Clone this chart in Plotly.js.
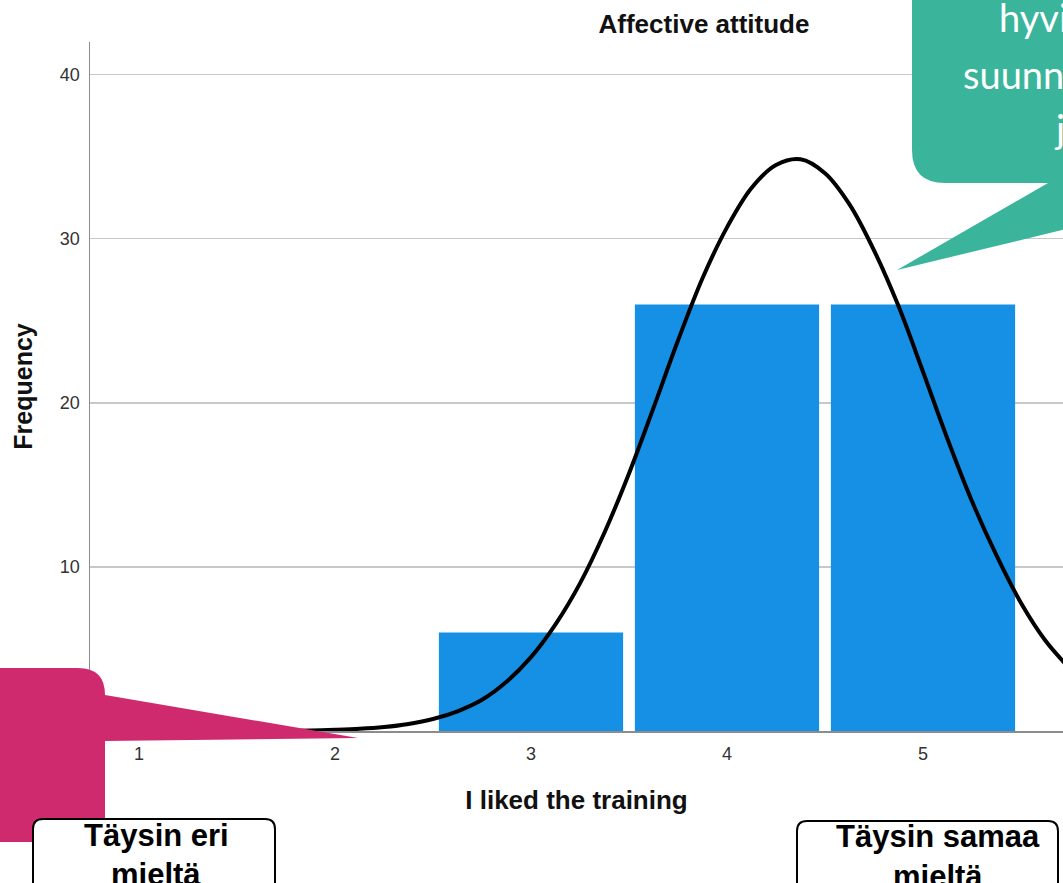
<!DOCTYPE html>
<html>
<head>
<meta charset="utf-8">
<script src="https://cdn.plot.ly/plotly-3.0.1.min.js"></script>
<style>
html,body{margin:0;padding:0;background:#fff;overflow:hidden;}
#chart{width:1063px;height:883px;}
</style>
</head>
<body>
<div id="chart"></div>
<script>
// ---- data ----
const categories = [1, 2, 3, 4, 5];
const frequencies = [0, 0, 6, 26, 26];
const curveX = [0.75, 1, 1.25, 1.5, 1.625, 1.75, 1.875, 2, 2.125, 2.25, 2.375, 2.5, 2.625, 2.75, 2.875, 3, 3.125, 3.25, 3.375, 3.5, 3.625, 3.75, 3.875, 4, 4.125, 4.25, 4.375, 4.5, 4.625, 4.75, 4.875, 5, 5.125, 5.25, 5.375, 5.5, 5.625, 5.75];
const curveY = [0, 0, 0, 0, 0, 0.01, 0.03, 0.07, 0.13, 0.24, 0.43, 0.73, 1.2, 1.9, 3.0, 4.5, 6.5, 9.0, 12.1, 15.7, 19.7, 23.8, 27.6, 30.7, 33.1, 34.5, 34.85, 34.0, 32.1, 29.3, 25.9, 21.9, 17.8, 14.0, 10.7, 7.8, 5.5, 3.8];
const yTicks = [0, 10, 20, 30, 40];
const chartTitle = "Affective attitude";
const xTitle = "I liked the training";
const yTitle = "Frequency";
const leftBoxLines = ["Täysin eri", "mieltä"];
const rightBoxLines = ["Täysin samaa", "mieltä"];
const calloutLines = ["hyvin", "suunniteltu", "ja"];

// ---- layout geometry (pixels) ----
const W = 1063, H = 883;
const M = {l: 90, r: 0, t: 42, b: 152};
const PW = W - M.l - M.r, PH = H - M.t - M.b;
const px = x => (x - M.l) / PW;
const py = y => (H - M.b - y) / PH;
function path(points) {
  return points.map(p => {
    const c = p[0];
    const nums = p.slice(1);
    const out = [];
    for (let i = 0; i < nums.length; i += 2) out.push(px(nums[i]).toFixed(5) + ',' + py(nums[i+1]).toFixed(5));
    return c + ' ' + out.join(' ');
  }).join(' ') + ' Z';
}

const pinkPath = path([['M',-30,668],['L',78,668],['Q',105,668,105,695],['L',358,738],['L',105,741],['L',105,842],['L',-30,842]]);
const tealPath = path([['M',912,-30],['L',1120,-30],['L',1120,216],['L',897,270],['L',1048,183],['L',945,183],['Q',912,183,912,150]]);
const box1Path = path([['M',33,920],['L',33,829],['Q',33,819,43,819],['L',265,819],['Q',275,819,275,829],['L',275,920]]);
const box2Path = path([['M',797,920],['L',797,831],['Q',797,821,807,821],['L',1048,821],['Q',1058,821,1058,831],['L',1058,920]]);

const bars = {
  type: 'bar', x: categories, y: frequencies, width: 0.94,
  marker: {color: '#1690E4', line: {width: 0}},
  hoverinfo: 'x+y', showlegend: false
};
const curve = {
  type: 'scatter', mode: 'lines', x: curveX, y: curveY,
  line: {color: '#000000', width: 4, shape: 'spline', smoothing: 1},
  hoverinfo: 'skip', showlegend: false
};

const arial = 'Arial, "Liberation Sans", sans-serif';
const annotations = [];
function addLine(text, xPix, yPix, size, color, anchor, family, bold) {
  annotations.push({
    xref: 'paper', yref: 'paper', x: px(xPix), y: py(yPix),
    xanchor: anchor, yanchor: 'middle', showarrow: false,
    text: bold ? '<b>' + text + '</b>' : text,
    font: {family: family, size: size, color: color}
  });
}
addLine(leftBoxLines[0], 156, 835, 31, '#000', 'center', arial, true);
addLine(leftBoxLines[1], 156, 874, 31, '#000', 'center', arial, true);
addLine(rightBoxLines[0], 938, 837, 31, '#000', 'center', arial, true);
addLine(rightBoxLines[1], 938, 876, 31, '#000', 'center', arial, true);
addLine(calloutLines[0], 997, 17, 38, '#ffffff', 'left', 'Lato, "Open Sans", sans-serif', false);
addLine(calloutLines[1], 961, 74, 38, '#ffffff', 'left', 'Lato, "Open Sans", sans-serif', false);
addLine(calloutLines[2], 1052, 128, 38, '#ffffff', 'left', 'Lato, "Open Sans", sans-serif', false);

const layout = {
  width: W, height: H,
  margin: M,
  paper_bgcolor: '#ffffff', plot_bgcolor: '#ffffff',
  showlegend: false,
  title: {
    text: '<b>' + chartTitle + '</b>',
    xref: 'container', yref: 'container',
    x: 704 / W, y: 1 - 24 / H, xanchor: 'center', yanchor: 'middle',
    font: {family: arial, size: 26, color: '#111'}
  },
  xaxis: {
    range: [0.75, 0.75 + PW / 196],
    tickvals: categories, ticktext: categories.map(String),
    showgrid: false, zeroline: false,
    showline: true, linecolor: '#8c8c8c', linewidth: 1.5,
    ticks: 'outside', ticklen: 6, tickcolor: 'rgba(0,0,0,0)',
    tickfont: {family: arial, size: 18, color: '#333'},
    title: {text: '<b>' + xTitle + '</b>', standoff: 27, font: {family: arial, size: 26, color: '#111'}},
    fixedrange: true
  },
  yaxis: {
    range: [0, 42],
    tickvals: yTicks.slice(1), ticktext: yTicks.slice(1).map(String),
    showgrid: true, gridcolor: '#c8c8c8', gridwidth: 1.2,
    zeroline: false,
    showline: true, linecolor: '#8c8c8c', linewidth: 1.5,
    ticks: 'outside', ticklen: 5, tickcolor: 'rgba(0,0,0,0)',
    tickfont: {family: arial, size: 18, color: '#333'},
    title: {text: '<b>' + yTitle + '</b>', standoff: 20, font: {family: arial, size: 25, color: '#111'}},
    fixedrange: true
  },
  shapes: [
    {type: 'path', xref: 'paper', yref: 'paper', path: pinkPath, fillcolor: '#D02A6E', line: {width: 0}, layer: 'above'},
    {type: 'path', xref: 'paper', yref: 'paper', path: tealPath, fillcolor: '#3AB49A', line: {width: 0}, layer: 'above'},
    {type: 'path', xref: 'paper', yref: 'paper', path: box1Path, fillcolor: '#ffffff', line: {color: '#000', width: 2}, layer: 'above'},
    {type: 'path', xref: 'paper', yref: 'paper', path: box2Path, fillcolor: '#ffffff', line: {color: '#000', width: 2}, layer: 'above'}
  ],
  annotations: annotations
};

Plotly.newPlot('chart', [bars, curve], layout, {displayModeBar: false, staticPlot: true});
</script>
</body>
</html>
